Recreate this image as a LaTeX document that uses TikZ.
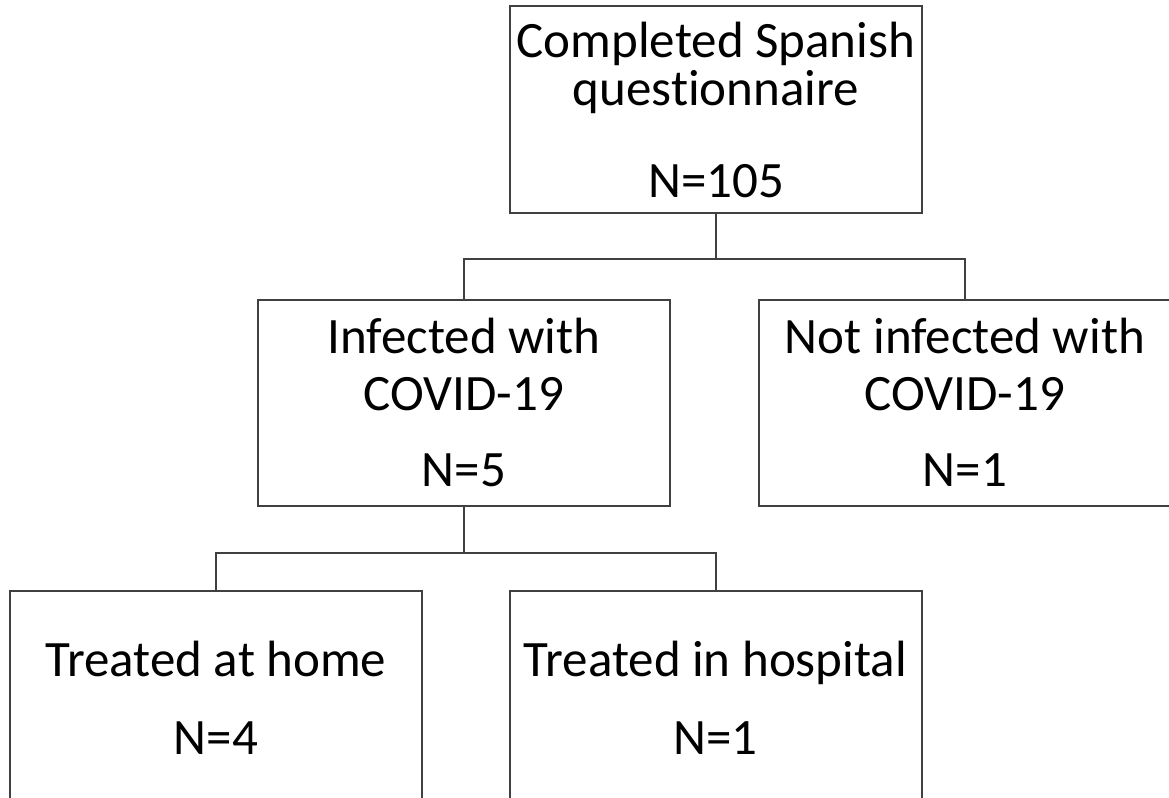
\documentclass[tikz,border=0pt]{standalone}
\usepackage{fontspec}
\setmainfont{Carlito}[Ligatures=NoCommon]
\usetikzlibrary{positioning}

\begin{document}
\begin{tikzpicture}[x=0.5pt,y=-0.5pt,
    b/.style={draw=black!75,line width=1pt,align=center,inner sep=0pt,
      minimum width=206pt,minimum height=103pt,
      font=\fontsize{25.5pt}{24pt}\selectfont},%
    l/.style={draw=black!75,line width=1pt}]
    \useasboundingbox (0,0) rectangle (1169,798);
    \clip (0,0) rectangle (1169,798);
    \node[b,minimum height=103.5pt] (top) at (716,109.5)
      {Completed Spanish\\questionnaire\\[22pt]N=105};
    \node[b] (inf) at (464,402.5) {Infected with\\[4.5pt]COVID-19\\[14pt]N=5};
    \node[b] (ninf) at (965,402.5) {Not infected with\\[4.5pt]COVID-19\\[14pt]N=1};
    \node[b,minimum height=107pt] (home) at (216,698) {Treated at home\\[15pt]N=4};
    \node[b,minimum height=107pt] (hosp) at (715.5,698) {Treated in hospital\\[15pt]N=1};
    % connectors
    \draw[l] (top.south) -- ++(0,45) -| (inf.north);
    \draw[l] (top.south) -- ++(0,45) -| (ninf.north);
    \draw[l] (inf.south) -- ++(0,46) -| (home.north);
    \draw[l] (inf.south) -- ++(0,46) -| (hosp.north);
\end{tikzpicture}
\end{document}
